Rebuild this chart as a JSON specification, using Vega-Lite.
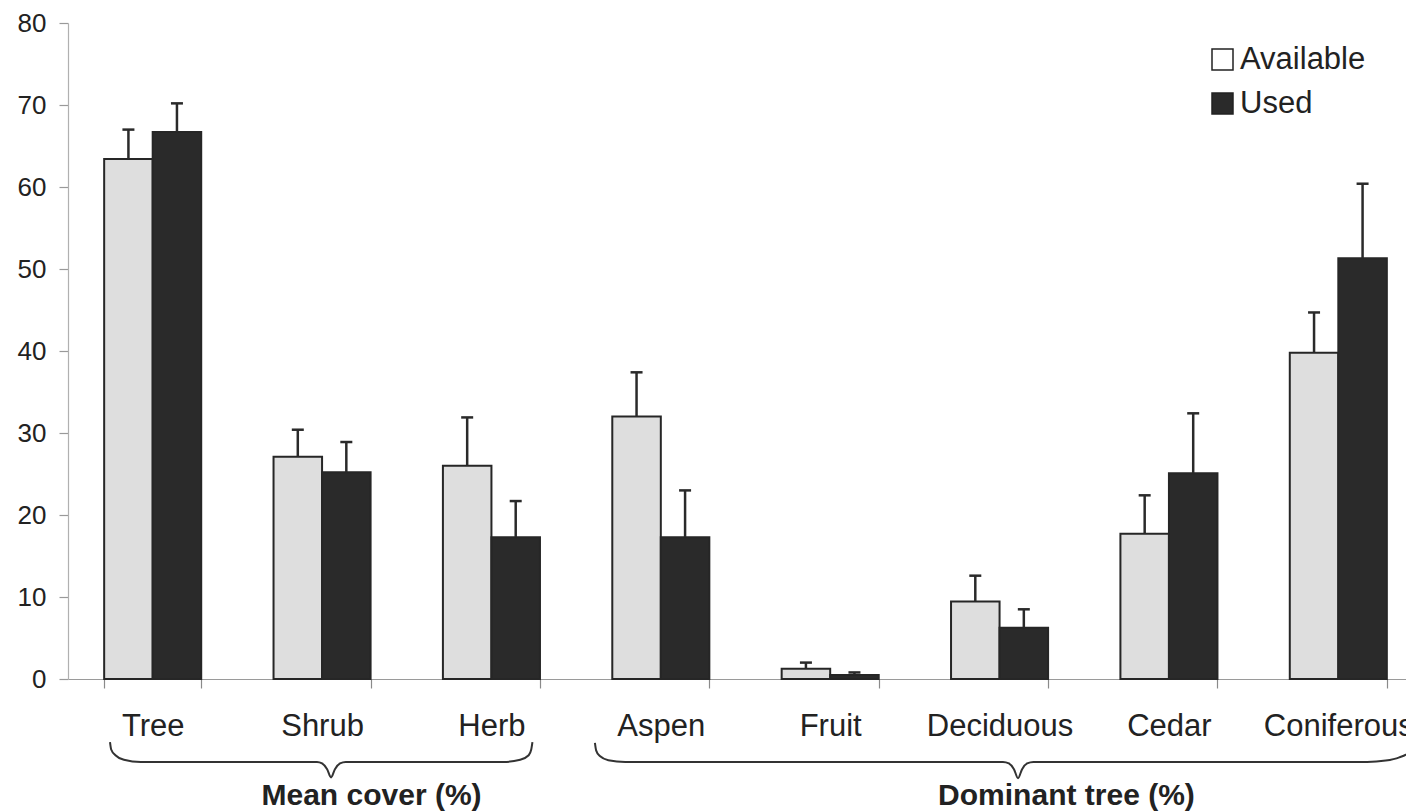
{
  "$schema": "https://vega.github.io/schema/vega-lite/v6.json",
  "width": 1338,
  "height": 656,
  "autosize": {"type": "none"},
  "padding": {"left": 68, "top": 23, "right": 0, "bottom": 133},
  "background": "white",
  "config": {
    "view": {"stroke": null},
    "font": "Liberation Sans"
  },
  "datasets": {
    "bars": [
      {"Category": "Tree", "Series": "Available", "value": 63.4, "upper": 67.0},
      {"Category": "Tree", "Series": "Used", "value": 66.7, "upper": 70.2},
      {"Category": "Shrub", "Series": "Available", "value": 27.1, "upper": 30.4},
      {"Category": "Shrub", "Series": "Used", "value": 25.2, "upper": 28.9},
      {"Category": "Herb", "Series": "Available", "value": 26.0, "upper": 31.9},
      {"Category": "Herb", "Series": "Used", "value": 17.3, "upper": 21.7},
      {"Category": "Aspen", "Series": "Available", "value": 32.0, "upper": 37.4},
      {"Category": "Aspen", "Series": "Used", "value": 17.3, "upper": 23.0},
      {"Category": "Fruit", "Series": "Available", "value": 1.25, "upper": 2.0},
      {"Category": "Fruit", "Series": "Used", "value": 0.5, "upper": 0.8},
      {"Category": "Deciduous", "Series": "Available", "value": 9.45, "upper": 12.6},
      {"Category": "Deciduous", "Series": "Used", "value": 6.25, "upper": 8.5},
      {"Category": "Cedar", "Series": "Available", "value": 17.7, "upper": 22.4},
      {"Category": "Cedar", "Series": "Used", "value": 25.1, "upper": 32.4},
      {"Category": "Coniferous", "Series": "Available", "value": 39.8, "upper": 44.7},
      {"Category": "Coniferous", "Series": "Used", "value": 51.3, "upper": 60.4}
    ],
    "braces": [
      {"brace": "Mean cover", "u": 0.248, "v": -7.7},
      {"brace": "Mean cover", "u": 0.255, "v": -8.6},
      {"brace": "Mean cover", "u": 0.28, "v": -9.3},
      {"brace": "Mean cover", "u": 0.33, "v": -9.85},
      {"brace": "Mean cover", "u": 0.43, "v": -10.12},
      {"brace": "Mean cover", "u": 1.47, "v": -10.12},
      {"brace": "Mean cover", "u": 1.50, "v": -10.3},
      {"brace": "Mean cover", "u": 1.53, "v": -11.0},
      {"brace": "Mean cover", "u": 1.553, "v": -12.0},
      {"brace": "Mean cover", "u": 1.576, "v": -11.0},
      {"brace": "Mean cover", "u": 1.606, "v": -10.3},
      {"brace": "Mean cover", "u": 1.64, "v": -10.12},
      {"brace": "Mean cover", "u": 2.57, "v": -10.12},
      {"brace": "Mean cover", "u": 2.67, "v": -9.85},
      {"brace": "Mean cover", "u": 2.72, "v": -9.3},
      {"brace": "Mean cover", "u": 2.735, "v": -8.6},
      {"brace": "Mean cover", "u": 2.742, "v": -7.7},
      {"brace": "Dominant tree", "u": 3.111, "v": -7.8},
      {"brace": "Dominant tree", "u": 3.118, "v": -8.7},
      {"brace": "Dominant tree", "u": 3.14, "v": -9.4},
      {"brace": "Dominant tree", "u": 3.19, "v": -9.9},
      {"brace": "Dominant tree", "u": 3.29, "v": -10.12},
      {"brace": "Dominant tree", "u": 5.52, "v": -10.12},
      {"brace": "Dominant tree", "u": 5.555, "v": -10.3},
      {"brace": "Dominant tree", "u": 5.585, "v": -11.0},
      {"brace": "Dominant tree", "u": 5.609, "v": -12.1},
      {"brace": "Dominant tree", "u": 5.633, "v": -11.0},
      {"brace": "Dominant tree", "u": 5.663, "v": -10.3},
      {"brace": "Dominant tree", "u": 5.70, "v": -10.12},
      {"brace": "Dominant tree", "u": 7.67, "v": -10.12},
      {"brace": "Dominant tree", "u": 7.78, "v": -9.95},
      {"brace": "Dominant tree", "u": 7.86, "v": -9.55},
      {"brace": "Dominant tree", "u": 7.92, "v": -8.9},
      {"brace": "Dominant tree", "u": 7.95, "v": -7.8}
    ],
    "groups": [
      {"label": "Mean cover (%)", "u": 1.792, "v": -15.4},
      {"label": "Dominant tree (%)", "u": 5.895, "v": -15.4}
    ]
  },
  "layer": [
    {
      "data": {"name": "bars"},
      "layer": [
        {
          "mark": {"type": "bar", "stroke": "#262626", "strokeWidth": 2},
          "encoding": {
            "x": {
              "field": "Category", "type": "nominal",
              "sort": ["Tree", "Shrub", "Herb", "Aspen", "Fruit", "Deciduous", "Cedar", "Coniferous"],
              "scale": {"range": [0, 1355], "paddingInner": 0.427, "paddingOuter": 0.2135},
              "axis": {
                "title": null, "labelAngle": 0, "tickBand": "extent", "tickSize": 9,
                "labelPadding": 23, "labelFontSize": 31, "labelColor": "#222",
                "domainColor": "#9a9a9a", "tickColor": "#8a8a8a", "domainWidth": 1.2, "tickWidth": 1.2
              }
            },
            "xOffset": {"field": "Series", "type": "nominal", "sort": ["Available", "Used"]},
            "y": {
              "field": "value", "type": "quantitative",
              "scale": {"domain": [0, 80], "nice": false},
              "axis": {
                "title": null, "values": [0, 10, 20, 30, 40, 50, 60, 70, 80], "grid": false,
                "tickSize": 9, "labelPadding": 13, "labelFontSize": 26, "labelColor": "#222",
                "domainColor": "#b0b0b0", "tickColor": "#999999", "domainWidth": 1.2, "tickWidth": 1.2
              }
            },
            "color": {
              "condition": {"test": "datum.Series === 'Available'", "value": "#dedede"},
              "value": "#2a2a2a"
            }
          }
        },
        {
          "mark": {"type": "square", "size": 0, "stroke": "#222222", "strokeWidth": 1.5, "filled": true, "opacity": 1},
          "encoding": {
            "x": {"field": "Category", "type": "nominal", "sort": ["Tree", "Shrub", "Herb", "Aspen", "Fruit", "Deciduous", "Cedar", "Coniferous"]},
            "xOffset": {"field": "Series", "type": "nominal", "sort": ["Available", "Used"]},
            "y": {"field": "value", "type": "quantitative", "scale": {"domain": [0, 80], "nice": false}},
            "fill": {
              "field": "Series", "type": "nominal",
              "scale": {"domain": ["Available", "Used"], "range": ["#ffffff", "#2a2a2a"]},
              "legend": {
                "title": null, "orient": "none", "legendX": 1139, "legendY": 21,
                "symbolType": "square", "symbolSize": 441, "labelFontSize": 31, "labelColor": "#222",
                "rowPadding": 12, "labelOffset": 2, "symbolStrokeColor": "#222", "symbolStrokeWidth": 1.5
              }
            }
          }
        },
        {
          "mark": {"type": "rule", "stroke": "#2a2a2a", "strokeWidth": 2.5},
          "encoding": {
            "x": {"field": "Category", "type": "nominal", "sort": ["Tree", "Shrub", "Herb", "Aspen", "Fruit", "Deciduous", "Cedar", "Coniferous"]},
            "xOffset": {"field": "Series", "type": "nominal", "sort": ["Available", "Used"]},
            "y": {"field": "value", "type": "quantitative", "scale": {"domain": [0, 80], "nice": false}},
            "y2": {"field": "upper"}
          }
        },
        {
          "mark": {"type": "tick", "color": "#2a2a2a", "size": 12, "thickness": 2.5, "opacity": 1},
          "encoding": {
            "x": {"field": "Category", "type": "nominal", "sort": ["Tree", "Shrub", "Herb", "Aspen", "Fruit", "Deciduous", "Cedar", "Coniferous"]},
            "xOffset": {"field": "Series", "type": "nominal", "sort": ["Available", "Used"]},
            "y": {"field": "upper", "type": "quantitative", "scale": {"domain": [0, 80], "nice": false}}
          }
        }
      ]
    },
    {
      "data": {"name": "braces"},
      "mark": {"type": "line", "interpolate": "monotone", "stroke": "#333333", "strokeWidth": 2},
      "encoding": {
        "x": {"field": "u", "type": "quantitative", "scale": {"domain": [0, 8], "range": [0, 1355], "nice": false, "zero": false}, "axis": null},
        "y": {"field": "v", "type": "quantitative", "scale": {"domain": [0, 80], "nice": false}, "axis": null},
        "detail": {"field": "brace", "type": "nominal"}
      }
    },
    {
      "data": {"name": "groups"},
      "mark": {"type": "text", "fontSize": 30, "fontWeight": "bold", "color": "#222222", "baseline": "alphabetic", "align": "center"},
      "encoding": {
        "x": {"field": "u", "type": "quantitative", "scale": {"domain": [0, 8], "range": [0, 1355], "nice": false, "zero": false}, "axis": null},
        "y": {"field": "v", "type": "quantitative", "scale": {"domain": [0, 80], "nice": false}, "axis": null},
        "text": {"field": "label"}
      }
    }
  ],
  "resolve": {"scale": {"x": "independent"}, "axis": {"x": "independent", "y": "independent"}}
}
